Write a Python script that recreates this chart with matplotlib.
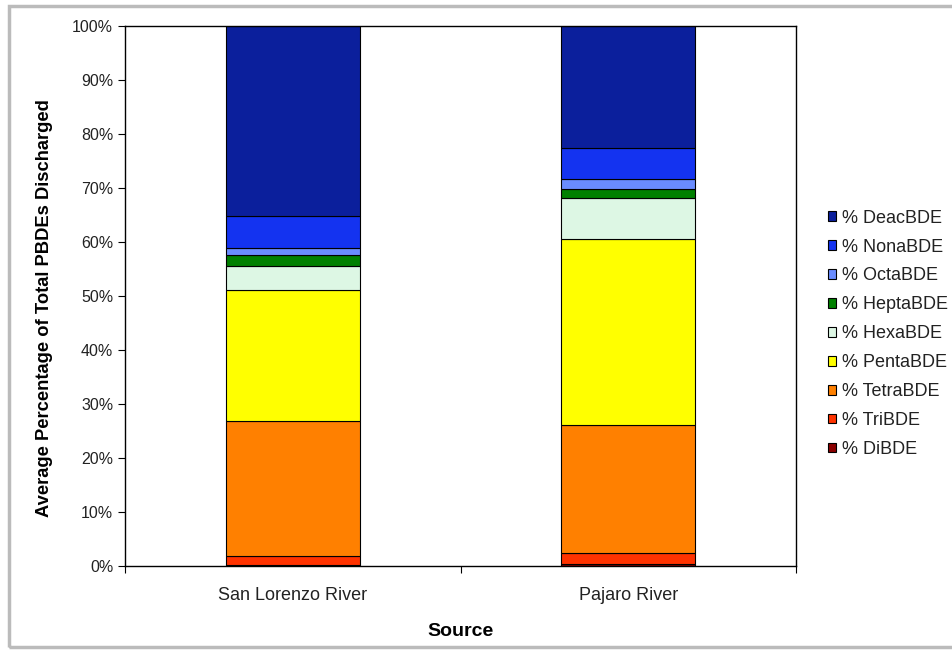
import numpy as np
import matplotlib.pyplot as plt
from matplotlib.patches import Rectangle
from matplotlib.ticker import PercentFormatter

plt.rcParams['font.family'] = ['Liberation Sans', 'DejaVu Sans']

# Sources on the x axis
sources = ["San Lorenzo River", "Pajaro River"]

# Congener groups, bottom of the stack first
congeners = ["% DiBDE", "% TriBDE", "% TetraBDE", "% PentaBDE", "% HexaBDE",
             "% HeptaBDE", "% OctaBDE", "% NonaBDE", "% DeacBDE"]

# Average share of total PBDEs (%) per source
di_bde = [0.2, 0.3]
tri_bde = [1.7, 2.2]
tetra_bde = [25.0, 23.6]
penta_bde = [24.3, 34.4]
hexa_bde = [4.4, 7.7]
hepta_bde = [2.0, 1.7]
octa_bde = [1.2, 1.8]
nona_bde = [6.1, 5.7]
deca_bde = [35.1, 22.6]

series = [di_bde, tri_bde, tetra_bde, penta_bde, hexa_bde,
          hepta_bde, octa_bde, nona_bde, deca_bde]
colors = ["#8B0000", "#FF3300", "#FF8000", "#FFFF00", "#DDF7E4",
          "#008000", "#6A8CFF", "#1433F0", "#0B1F9C"]

fig = plt.figure(figsize=(9.53, 6.52), dpi=100)
ax = fig.add_axes([0.1312, 0.1319, 0.7041, 0.8282])

x = np.arange(len(sources))
bottom = np.zeros(len(sources))
handles = []
for vals, col, name in zip(series, colors, congeners):
    b = ax.bar(x, vals, 0.4, bottom=bottom, color=col, edgecolor="black",
               linewidth=0.8, label=name)
    handles.append(b)
    bottom += np.array(vals)

ax.set_xlim(-0.5, 1.5)
ax.set_ylim(0, 100)
ax.set_yticks(np.arange(0, 101, 10))
ax.yaxis.set_major_formatter(PercentFormatter(decimals=0))
ax.tick_params(axis="y", labelsize=11.5, length=5, colors="black", labelcolor="#222222")

# category labels in the middle, tick marks between categories
ax.set_xticks([-0.5, 0.5, 1.5])
ax.set_xticklabels([])
ax.set_xticks(x, minor=True)
ax.set_xticklabels(sources, minor=True, fontsize=13, color="#222222")
ax.tick_params(axis="x", which="major", length=5)
ax.tick_params(axis="x", which="minor", length=0, pad=15)

for s in ax.spines.values():
    s.set_linewidth(1.0)

ax.set_ylabel("Average Percentage of Total PBDEs Discharged",
              fontsize=13.2, fontweight="bold", labelpad=14)
ax.yaxis.label.set_y(0.478)
ax.set_xlabel("Source", fontsize=14, fontweight="bold", labelpad=14)

leg = fig.legend(handles[::-1], congeners[::-1], loc="center left",
                 bbox_to_anchor=(0.852, 0.488), frameon=False, fontsize=13,
                 handlelength=0.45, handleheight=0.45, handletextpad=0.3,
                 labelspacing=0.66)
for t in leg.get_texts():
    t.set_color("#222222")

# thin grey frame around the whole figure
fig.patches.append(Rectangle((0.009, 0.007), 1.2, 0.984, transform=fig.transFigure,
                             fill=False, edgecolor="#BBBBBB", linewidth=2.5))

fig.savefig("out.png", dpi=100)
